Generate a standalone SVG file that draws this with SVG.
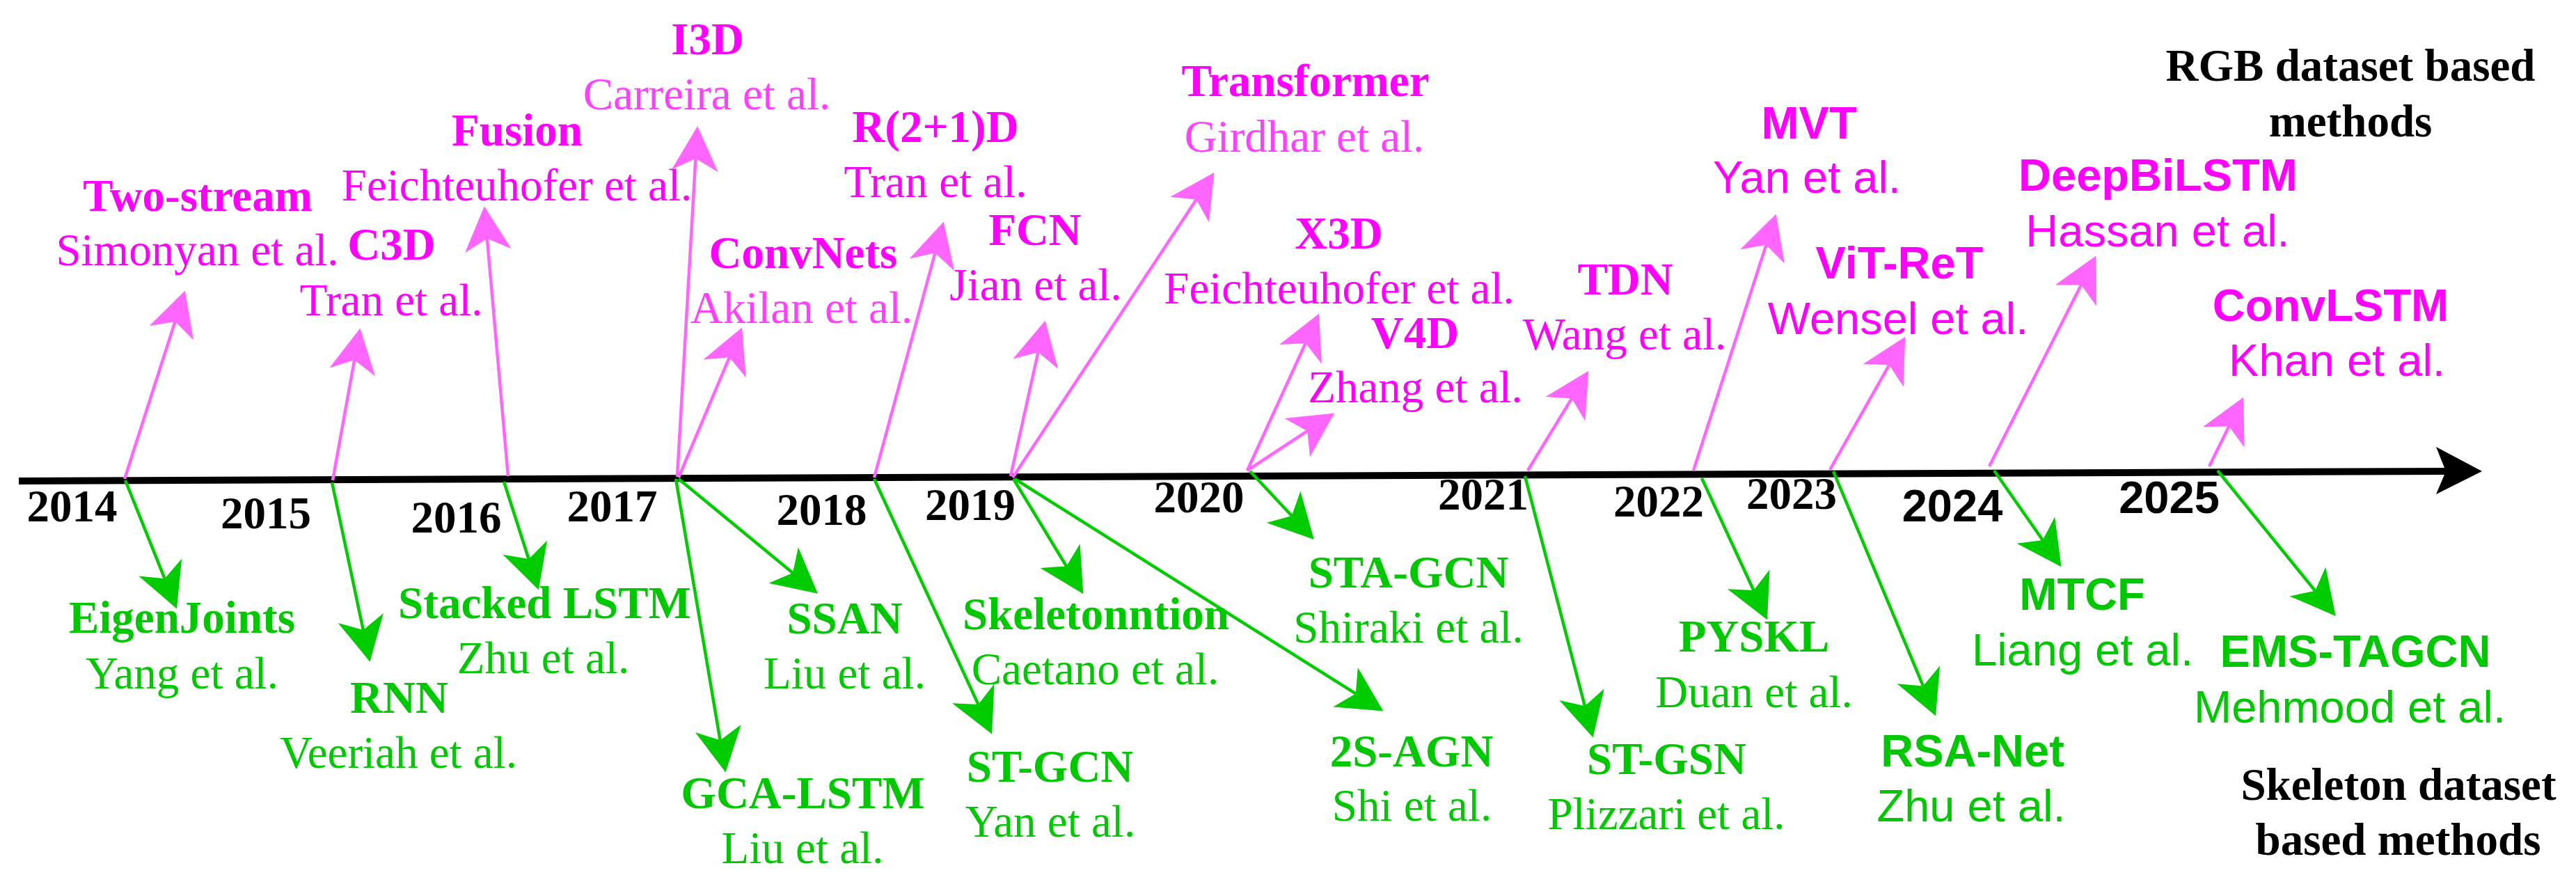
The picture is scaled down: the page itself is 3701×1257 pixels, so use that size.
<svg xmlns="http://www.w3.org/2000/svg" width="3701" height="1257" viewBox="0 0 3701 1257">
<style>
text{font-size:65px;text-anchor:middle}
.s{font-family:"Liberation Serif","Times New Roman",serif}
.a{font-family:"Liberation Sans",Arial,sans-serif}
.b{font-weight:bold}
.p{fill:#FF00FF}
.pl{fill:#FF40FF}
.g{fill:#00C800}
.k{fill:#000000}
.cp{stroke:#FF66FF;stroke-width:4.5;fill:none;marker-end:url(#ap)}
.cg{stroke:#00CC00;stroke-width:4.5;fill:none;marker-end:url(#ag)}
</style>
<defs>
<marker id="ap" markerUnits="userSpaceOnUse" markerWidth="80" markerHeight="80" viewBox="-45 -30 60 60" refX="0" refY="0" orient="auto" overflow="visible">
<path d="M8,0 L-40,-25 L-27,0 L-40,25 Z" fill="#FF66FF"/>
</marker>
<marker id="ag" markerUnits="userSpaceOnUse" markerWidth="80" markerHeight="80" viewBox="-45 -30 60 60" refX="0" refY="0" orient="auto" overflow="visible">
<path d="M8,0 L-40,-25 L-27,0 L-40,25 Z" fill="#00CC00"/>
</marker>
</defs>
<rect width="3701" height="1257" fill="#FFFFFF"/>

<g id="timeline">
<line x1="27" y1="691" x2="3520" y2="677" stroke="#000" stroke-width="10"/>
<polygon points="3566,677 3500,642 3514,677 3500,710" fill="#000"/>
</g>

<g id="connectors">
<line class="cp" x1="179" y1="688" x2="262.6" y2="427.6"/>
<line class="cp" x1="478" y1="690" x2="515.6" y2="481.9"/>
<line class="cp" x1="730" y1="684" x2="696.7" y2="307"/>
<line class="cp" x1="973" y1="685" x2="1001.5" y2="192"/>
<line class="cp" x1="975" y1="686" x2="1061.9" y2="480.4"/>
<line class="cp" x1="1256" y1="686" x2="1352.9" y2="328.7"/>
<line class="cp" x1="1452" y1="684" x2="1499.3" y2="470.8"/>
<line class="cp" x1="1455" y1="686" x2="1738.6" y2="256.7"/>
<line class="cp" x1="1792" y1="676" x2="1890.7" y2="460.3"/>
<line class="cp" x1="1792" y1="676" x2="1908.3" y2="599.4"/>
<line class="cp" x1="2195" y1="676" x2="2276.8" y2="541.8"/>
<line class="cp" x1="2433" y1="676" x2="2548.5" y2="317.6"/>
<line class="cp" x1="2629" y1="675" x2="2732" y2="493"/>
<line class="cp" x1="2858" y1="670" x2="3006.4" y2="377.1"/>
<line class="cp" x1="3174" y1="670" x2="3218.4" y2="580.2"/>

<line class="cg" x1="180" y1="690" x2="250" y2="864.6"/>
<line class="cg" x1="477" y1="693" x2="529.3" y2="940.2"/>
<line class="cg" x1="724" y1="692" x2="770.6" y2="837.4"/>
<line class="cg" x1="971" y1="688" x2="1040.7" y2="1099.1"/>
<line class="cg" x1="975" y1="688" x2="1166.8" y2="845.9"/>
<line class="cg" x1="1256" y1="688" x2="1420.6" y2="1044.7"/>
<line class="cg" x1="1456" y1="688" x2="1550.8" y2="844.2"/>
<line class="cg" x1="1458" y1="688" x2="1978.2" y2="1015.7"/>
<line class="cg" x1="1796" y1="677" x2="1880.5" y2="767.2"/>
<line class="cg" x1="2191" y1="684" x2="2286" y2="1049.2"/>
<line class="cg" x1="2445" y1="687" x2="2534.6" y2="880.7"/>
<line class="cg" x1="2634" y1="677" x2="2776.9" y2="1018.6"/>
<line class="cg" x1="2865" y1="676" x2="2955.4" y2="805.4"/>
<line class="cg" x1="3186" y1="676" x2="3349" y2="876.8"/>
</g>

<g id="years" class="s b k">
<text class="s b k" x="103.5" y="749">2014</text>
<text class="s b k" x="382" y="759">2015</text>
<text class="s b k" x="655.5" y="765">2016</text>
<text class="s b k" x="879.5" y="749">2017</text>
<text class="s b k" x="1180.5" y="754">2018</text>
<text class="s b k" x="1394" y="747">2019</text>
<text class="s b k" x="1722.5" y="736">2020</text>
<text class="s b k" x="2131" y="732">2021</text>
<text class="s b k" x="2383" y="742">2022</text>
<text class="s b k" x="2574" y="731">2023</text>
<text class="a b k" x="2805" y="749">2024</text>
<text class="a b k" x="3116.5" y="737">2025</text>
</g>

<g id="legend-rgb">
<text class="s b k" x="3377" y="116">RGB dataset based</text>
<text class="s b k" x="3377" y="196">methods</text>
</g>
<g id="legend-skeleton">
<text class="s b k" x="3446" y="1149">Skeleton dataset</text>
<text class="s b k" x="3445.5" y="1228">based methods</text>
</g>

<g id="n-twostream"><text class="s b p" x="284" y="303">Two-stream</text><text class="s p" x="283.5" y="381">Simonyan et al.</text></g>
<g id="n-c3d"><text class="s b p" x="562.5" y="373">C3D</text><text class="s p" x="562" y="453">Tran et al.</text></g>
<g id="n-fusion"><text class="s b p" x="743" y="209">Fusion</text><text class="s p" x="742.5" y="288">Feichteuhofer et al.</text></g>
<g id="n-i3d"><text class="s b p" x="1016.5" y="78">I3D</text><text class="s pl" x="1015.5" y="157">Carreira et al.</text></g>
<g id="n-convnets"><text class="s b p" x="1154" y="385">ConvNets</text><text class="s pl" x="1151.5" y="464">Akilan et al.</text></g>
<g id="n-r21d"><text class="s b p" x="1344" y="204">R(2+1)D</text><text class="s p" x="1344" y="283">Tran et al.</text></g>
<g id="n-fcn"><text class="s b p" x="1487" y="352">FCN</text><text class="s p" x="1488" y="431">Jian et al.</text></g>
<g id="n-transformer"><text class="s b p" x="1875.5" y="138">Transformer</text><text class="s pl" x="1874" y="218">Girdhar et al.</text></g>
<g id="n-x3d"><text class="s b p" x="1923.5" y="357">X3D</text><text class="s p" x="1924" y="436">Feichteuhofer et al.</text></g>
<g id="n-v4d"><text class="s b p" x="2033" y="500">V4D</text><text class="s p" x="2033.5" y="578">Zhang et al.</text></g>
<g id="n-tdn"><text class="s b p" x="2335" y="423">TDN</text><text class="s p" x="2334" y="502">Wang et al.</text></g>
<g id="n-mvt"><text class="a b p" x="2599" y="199">MVT</text><text class="a p" x="2596" y="277">Yan et al.</text></g>
<g id="n-vitret"><text class="a b p" x="2729" y="400">ViT-ReT</text><text class="a p" x="2727" y="480">Wensel et al.</text></g>
<g id="n-deepbilstm"><text class="a b p" x="3100.5" y="274">DeepBiLSTM</text><text class="a p" x="3100" y="354">Hassan et al.</text></g>
<g id="n-convlstm"><text class="a b p" x="3348.5" y="461">ConvLSTM</text><text class="a p" x="3357.5" y="540">Khan et al.</text></g>

<g id="n-eigenjoints"><text class="s b g" x="261.5" y="909">EigenJoints</text><text class="s g" x="261.5" y="989">Yang et al.</text></g>
<g id="n-rnn"><text class="s b g" x="573.5" y="1024">RNN</text><text class="s g" x="572.5" y="1103">Veeriah et al.</text></g>
<g id="n-stackedlstm"><text class="s b g" x="782.5" y="888">Stacked LSTM</text><text class="s g" x="780.5" y="967">Zhu et al.</text></g>
<g id="n-ssan"><text class="s b g" x="1213.5" y="910">SSAN</text><text class="s g" x="1213.5" y="989">Liu et al.</text></g>
<g id="n-gcalstm"><text class="s b g" x="1153.5" y="1161">GCA-LSTM</text><text class="s g" x="1153" y="1240">Liu et al.</text></g>
<g id="n-skeletonntion"><text class="s b g" x="1574.5" y="904">Skeletonntion</text><text class="s g" x="1573.5" y="983">Caetano et al.</text></g>
<g id="n-stgcn"><text class="s b g" x="1508.5" y="1123">ST-GCN</text><text class="s g" x="1509" y="1202">Yan et al.</text></g>
<g id="n-stagcn"><text class="s b g" x="2023.5" y="844">STA-GCN</text><text class="s g" x="2023.5" y="923">Shiraki et al.</text></g>
<g id="n-2sagn"><text class="s b g" x="2028" y="1101">2S-AGN</text><text class="s g" x="2028.5" y="1179">Shi et al.</text></g>
<g id="n-stgsn"><text class="s b g" x="2394.5" y="1112">ST-GSN</text><text class="s g" x="2394" y="1191">Plizzari et al.</text></g>
<g id="n-pyskl"><text class="s b g" x="2520" y="936">PYSKL</text><text class="s g" x="2520" y="1016">Duan et al.</text></g>
<g id="n-rsanet"><text class="a b g" x="2834" y="1101">RSA-Net</text><text class="a g" x="2832" y="1180">Zhu et al.</text></g>
<g id="n-mtcf"><text class="a b g" x="2991.5" y="876">MTCF</text><text class="a g" x="2992" y="956">Liang et al.</text></g>
<g id="n-emstagcn"><text class="a b g" x="3384" y="958">EMS-TAGCN</text><text class="a g" x="3376" y="1038">Mehmood et al.</text></g>
</svg>
